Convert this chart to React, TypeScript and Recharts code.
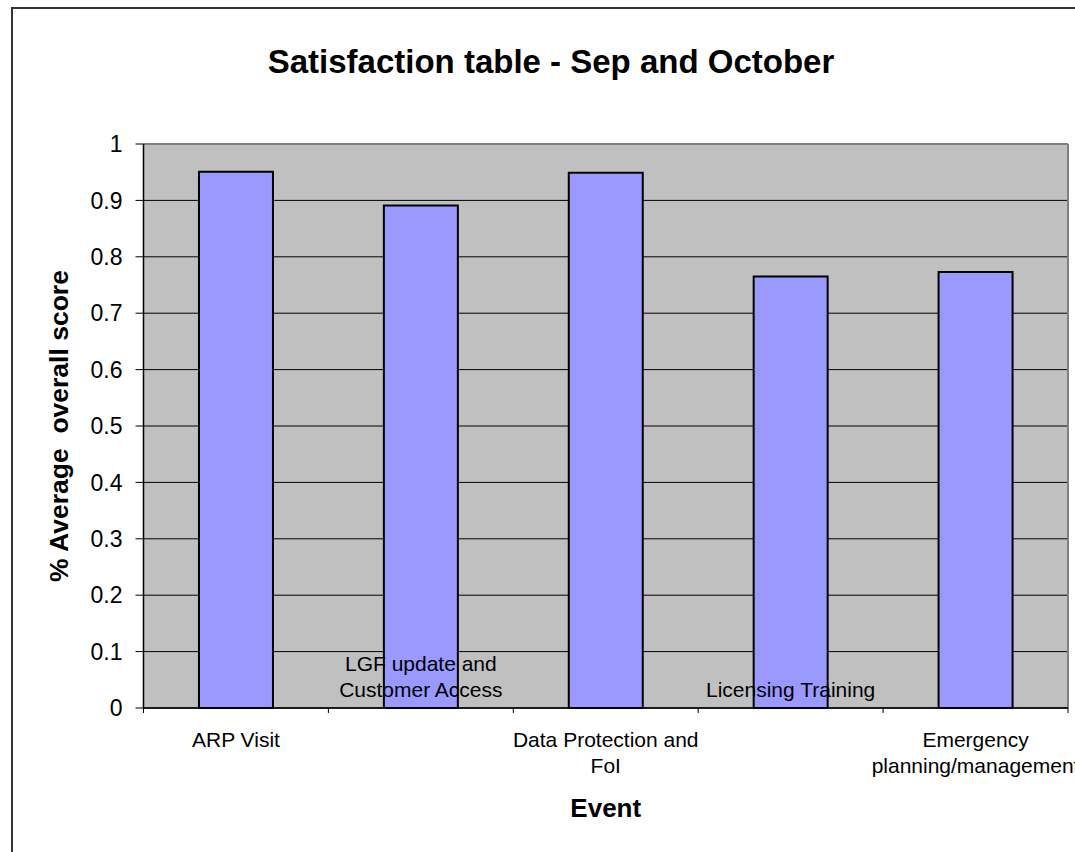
import React from 'react';
import { BarChart, Bar, XAxis, YAxis, CartesianGrid } from 'recharts';

// Event names along the category axis
const events = [
  'ARP Visit',
  'LGF update and Customer Access',
  'Data Protection and FoI',
  'Licensing Training',
  'Emergency planning/management',
];

// % average overall score for each event
const scores = [0.951, 0.891, 0.949, 0.765, 0.773];

const yTicks = [0, 0.1, 0.2, 0.3, 0.4, 0.5, 0.6, 0.7, 0.8, 0.9, 1];

const chartData = events.map((event, i) => ({ event, score: scores[i] }));

const FONT = '"Liberation Sans", Arial, sans-serif';
const TICK_FONT = 21;

let ctx: CanvasRenderingContext2D | null = null;
const measure = (s: string) => {
  if (!ctx) {
    ctx = document.createElement('canvas').getContext('2d');
  }
  if (!ctx) return s.length * TICK_FONT * 0.5;
  ctx.font = `${TICK_FONT}px ${FONT}`;
  return ctx.measureText(s).width;
};

// greedy word wrap, like Excel does for long category names
const wrap = (label: string, maxWidth: number) => {
  const lines: string[] = [];
  let cur = '';
  label.split(' ').forEach((w) => {
    const next = cur ? cur + ' ' + w : w;
    if (cur && measure(next) > maxWidth) {
      lines.push(cur);
      cur = w;
    } else {
      cur = next;
    }
  });
  if (cur) lines.push(cur);
  return lines;
};

// Excel-style category tick: marks sit between categories, labels alternate below/above the axis
const EventTick = (props: any) => {
  const { x, y, payload, index, width, visibleTicksCount } = props;
  const count = visibleTicksCount || events.length;
  const band = (width || 924.5) / count;
  const below = index % 2 === 0;
  const lines = wrap(String(payload.value), 200);
  const lh = 26;
  // baseline of the first line
  const first = below ? y + 39 : y - 11 - (lines.length - 1) * lh;
  return (
    <g>
      <line x1={x - band / 2} x2={x - band / 2} y1={y} y2={y + 5} stroke="#000" />
      {index === count - 1 && <line x1={x + band / 2} x2={x + band / 2} y1={y} y2={y + 5} stroke="#000" />}
      <text x={x} y={first} textAnchor="middle" fontSize={TICK_FONT} fontFamily={FONT} fill="#000">
        {lines.map((l, i) => (
          <tspan key={i} x={x} dy={i === 0 ? 0 : lh}>
            {l}
          </tspan>
        ))}
      </text>
    </g>
  );
};

const App = () => {
  return (
    <div style={{ position: 'absolute', left: 0, top: 0, width: 1075, height: 852, overflow: 'hidden', background: '#fff' }}>
      {/* chart frame, runs past the right and bottom edges */}
      <div style={{ position: 'absolute', left: 11, top: 7, width: 2000, height: 2000, border: '2px solid #333' }} />
      <div
        style={{
          position: 'absolute',
          left: 151,
          width: 800,
          top: 46,
          textAlign: 'center',
          fontFamily: FONT,
          fontWeight: 'bold',
          fontSize: 33,
          lineHeight: '32px',
          color: '#000',
        }}
      >
        Satisfaction table - Sep and October
      </div>
      <div style={{ position: 'absolute', left: 0, top: 0 }}>
        <BarChart
          width={1075}
          height={852}
          data={chartData}
          margin={{ top: 144, right: 7, bottom: 0, left: 0 }}
          barCategoryGap="30%"
        >
          <CartesianGrid vertical={false} stroke="#000" fill="#C0C0C0" fillOpacity={1} />
          <CartesianGrid
            horizontalCoordinatesGenerator={({ offset }: any) => [offset.top]}
            verticalCoordinatesGenerator={({ offset }: any) => [offset.left + offset.width]}
            stroke="#808080"
            strokeWidth={2}
          />
          <XAxis
            dataKey="event"
            height={144}
            interval={0}
            tickSize={0}
            tickMargin={0}
            tickLine={false}
            axisLine={{ stroke: '#000', strokeWidth: 1.5 }}
            tick={<EventTick />}
            label={{ value: 'Event', position: 'insideBottom', offset: 35, fontSize: 26, fontWeight: 'bold', fill: '#000', fontFamily: FONT }}
          />
          <YAxis
            width={143.5}
            domain={[0, 1]}
            ticks={yTicks}
            interval={0}
            tickSize={8}
            tickMargin={13}
            axisLine={{ stroke: '#000', strokeWidth: 1.5 }}
            tickLine={{ stroke: '#000' }}
            tick={{ fill: '#000', fontSize: 23, fontFamily: FONT }}
            label={{
              content: (p: any) => {
                const vb = p.viewBox;
                const cx = vb.x + 59;
                const cy = vb.y + vb.height / 2;
                return (
                  <text
                    x={cx}
                    y={cy}
                    transform={`rotate(-90 ${cx} ${cy})`}
                    textAnchor="middle"
                    dominantBaseline="central"
                    fontSize={26.5}
                    fontWeight="bold"
                    fontFamily={FONT}
                    fill="#000"
                    style={{ whiteSpace: 'pre' }}
                  >
                    {'% Average  overall score'}
                  </text>
                );
              },
            }}
          />
          <Bar dataKey="score" fill="#9999FF" stroke="#000" strokeWidth={2} isAnimationActive={false} />
        </BarChart>
      </div>
    </div>
  );
};

export default App;
